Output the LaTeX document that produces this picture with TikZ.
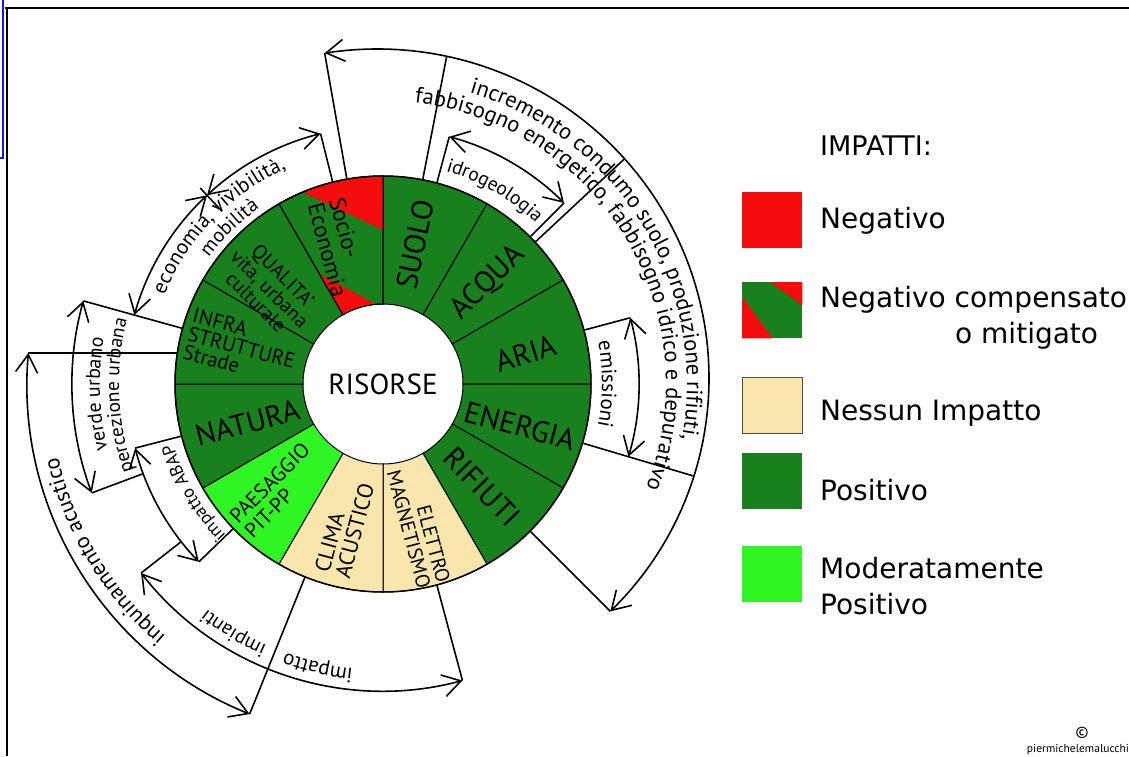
\documentclass[tikz,border=0pt]{standalone}
\usepackage{fontspec}
\setmainfont{PT Sans}
\newfontfamily\legfont{DejaVu Sans}
\usetikzlibrary{arrows.meta,decorations.text,calc}

\definecolor{wgreen}{RGB}{24,128,28}
\definecolor{wred}{RGB}{245,12,12}
\definecolor{lgreen}{RGB}{48,245,36}
\definecolor{cream}{RGB}{248,230,172}
\definecolor{frameblue}{RGB}{20,20,240}

\tikzset{
  sector/.style={draw=black, line width=1pt},
  biglab/.style={font=\fontsize{30}{30}\selectfont, inner sep=0pt},
  smalllab/.style={font=\fontsize{22}{21}\selectfont, inner sep=0pt, align=center},
  dimline/.style={line width=1.6pt, <->},
  extline/.style={line width=1.6pt},
  legbox/.style={minimum width=60pt, minimum height=56pt, inner sep=0pt, anchor=north west},
  legtext/.style={font=\legfont\fontsize{28}{30}\selectfont, anchor=base west, inner sep=0pt}
}

% radius, start angle, end angle
\newcommand{\dimarc}[3]{\draw[dimline] (#2:#1) arc[start angle=#2, end angle=#3, radius=#1];}
% angle, inner radius, outer radius
\newcommand{\radline}[3]{\draw[extline] (#1:#2) -- (#1:#3);}
% radius, mid angle, size, text
\newcommand{\curvetext}[4]{%
  \path[decorate, decoration={text along path, text align=center,
      text={|\fontsize{#3}{#3}\selectfont|#4}}]
    (#2+80:#1) arc[start angle=#2+80, end angle=#2-80, radius=#1];}

\begin{document}
\begin{tikzpicture}[x=1pt, y=1pt, >={Straight Barb[length=18pt, width=22pt]}]
\useasboundingbox (-383,-372) rectangle (746,384);

% frame
\draw[line width=2pt] (-378,376) -- (746,376);
\draw[line width=2pt] (-376,376) -- (-376,-372);
\draw[frameblue, line width=2pt] (-383,226) -- (-380,226) -- (-380,384);

% wheel
\foreach \a/\col in {60/wgreen,30/wgreen,0/wgreen,-30/wgreen,-60/wgreen,-90/cream,
    -120/cream,-150/lgreen,180/wgreen,150/wgreen,120/wgreen,90/wgreen}
  \filldraw[sector, fill=\col] (\a:80) -- (\a:208) arc[start angle=\a, end angle=\a+30, radius=208]
    -- ({\a+30}:80) arc[start angle=\a+30, end angle=\a, radius=80] -- cycle;

\begin{scope}
  \clip (90:80) -- (90:208) arc[start angle=90, end angle=120, radius=208]
    -- (120:80) arc[start angle=120, end angle=90, radius=80] -- cycle;
  \fill[wred] (0,154) -- (-140,220) -- (-140,260) -- (0,260) -- cycle;
  \fill[wred] (-140,151) -- (0,76) -- (0,0) -- (-140,0) -- cycle;
\end{scope}
\draw[sector] (90:80) -- (90:208) arc[start angle=90, end angle=120, radius=208]
    -- (120:80) arc[start angle=120, end angle=90, radius=80] -- cycle;
\draw[line width=1.5pt] (0,0) circle[radius=208];

\node[font=\fontsize{29}{29}\selectfont] (risorse) at (0,0) {RISORSE};

\node[biglab, rotate=78] (suolo) at (77:143) {SUOLO};
\node[biglab, rotate=45] (acqua) at (44:146) {ACQUA};
\node[biglab, rotate=17] (aria) at (12:146) {ARIA};
\node[biglab, rotate=-15] (energia) at (-17:143) {ENERGIA};
\node[biglab, rotate=-46] (rifiuti) at (-46:143) {RIFIUTI};
\node[smalllab, align=right, rotate=-75, font=\fontsize{20}{20}\selectfont] (elettro) at (-76:147) {ELETTRO\\MAGNETISMO};
\node[smalllab, align=left, rotate=75] (clima) at (-105:149) {CLIMA\\ACUSTICO};
\node[smalllab, align=left, rotate=45, font=\fontsize{21}{21}\selectfont] (paesaggio) at (-135:150) {PAESAGGIO\\PIT-PP};
\node[biglab, rotate=15] (natura) at (196:141) {NATURA};
\node[smalllab, align=left, rotate=-15, font=\fontsize{21}{19}\selectfont] (infra) at (165.5:146) {INFRA\\STRUTTURE\\Strade};
\node[smalllab, rotate=-45, font=\fontsize{20}{19}\selectfont] (qualita) at (140:148) {QUALITA'\\vita, urbana\\culturale};
\node[smalllab, align=left, rotate=-75, font=\fontsize{23}{22}\selectfont] (socio) at (108:144) {Socio-\\Economia};

% big arc on the right
\draw[dimline] plot[domain=100:-45, samples=80, variable=\t] (\t:{336-0.1*(100-\t)});
\foreach \t in {100,79,43,-16.5,-45}
  \draw[extline] (\t:208) -- (\t:{336-0.1*(100-\t)});
\curvetext{304}{31.5}{22.5}{incremento condumo suolo, produzione rifiuti,}
\curvetext{283}{31}{22.5}{fabbisogno energetico, fabbisogno idrico e depurativo}

% idrogeologia
\dimarc{256}{75}{45}
\radline{75}{208}{256}
\radline{45}{208}{256}
\curvetext{222}{60}{19.5}{idrogeologia}

% emissioni
\dimarc{256}{15}{-16.5}
\radline{15}{208}{256}
\curvetext{219}{0}{21}{emissioni}

% economia, vivibilita, mobilita
\dimarc{258}{164.5}{133}
\dimarc{258}{133}{104}
\radline{104}{208}{258}
\radline{133}{236}{268}
\curvetext{236}{136}{21}{economia, vivibilità,}
\curvetext{215}{134.5}{20}{mobilità}

% verde urbano
\dimarc{311}{164.5}{200.5}
\radline{164.5}{208}{311}
\radline{200.5}{256}{311}
\curvetext{283}{182}{20}{verde urbano}
\curvetext{264}{182.5}{19.5}{percezione urbana}

% impatto ABAP
\dimarc{256}{194.5}{224}
\radline{194.5}{208}{256}
\radline{224}{208}{256}
\curvetext{218}{210}{18}{impatto ABAP}

% inquinamento acustico
\dimarc{356}{175}{248}
\draw[extline] (175:356) -- ++(148.9,0);
\radline{248}{208}{356}
\curvetext{333}{211}{22}{inquinamento acustico}

% impianti, impatto
\dimarc{307}{218}{285}
\radline{218}{256}{307}
\radline{285}{208}{307}
\curvetext{286}{239}{20}{impianti}
\curvetext{286}{257}{21}{impatto}

% legend
\node[legtext, font=\legfont\fontsize{27}{30}\selectfont] (legtitle) at (437,229) {IMPATTI:};
\node[legbox, fill=wred] (boxneg) at (359,192) {};
\node[legtext] (txtneg) at (437,156) {Negativo};
\node[legbox, fill=wgreen] (boxmit) at (359,102) {};
\fill[wred] ($(boxmit.north west)+(28,0)$) -- (boxmit.north east) -- ($(boxmit.north east)+(0,-23)$) -- cycle;
\fill[wred] ($(boxmit.north west)+(0,-15)$) -- (boxmit.south west) -- ($(boxmit.south west)+(31,0)$) -- cycle;
\node[legtext] (txtmit) at (437,77) {Negativo compensato};
\node[legtext] (txtmit2) at (572,41) {o mitigato};
\node[legbox, fill=cream, draw=black!70, line width=0.8pt] (boxnone) at (359,7) {};
\node[legtext] (txtnone) at (437,-36) {Nessun Impatto};
\node[legbox, fill=wgreen] (boxpos) at (359,-69) {};
\node[legtext] (txtpos) at (437,-116) {Positivo};
\node[legbox, fill=lgreen] (boxmod) at (359,-162) {};
\node[legtext] (txtmod) at (437,-194) {Moderatamente};
\node[legtext] (txtmod2) at (437,-230) {Positivo};

\node[font=\fontsize{16}{16}\selectfont, inner sep=0pt] (copy) at (699,-349) {©};
\node[font=\fontsize{11.5}{12}\selectfont, anchor=base, inner sep=0pt] (author) at (695,-368) {piermichelemalucchi};
\end{tikzpicture}
\end{document}
